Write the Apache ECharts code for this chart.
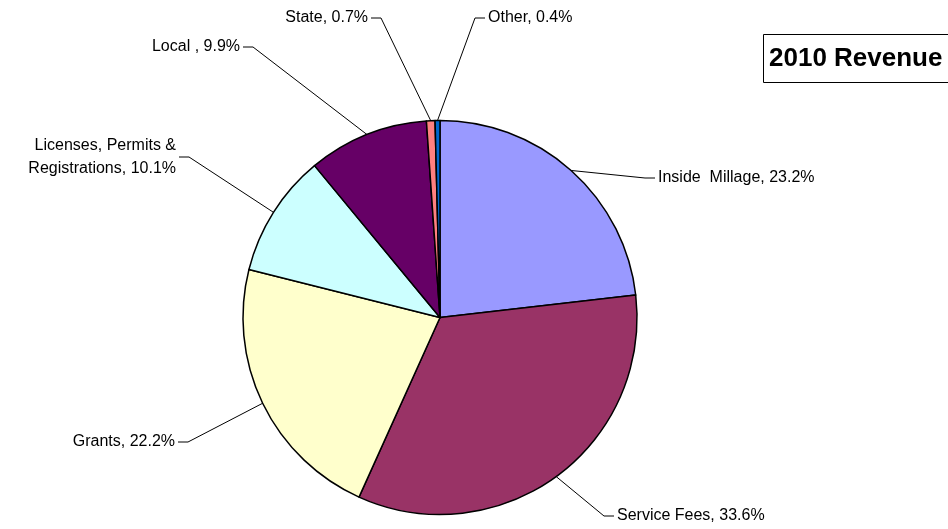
<!DOCTYPE html>
<html>
<head>
<meta charset="utf-8">
<script src="https://cdn.jsdelivr.net/npm/echarts@6/dist/echarts.min.js"></script>
<style>
html,body{margin:0;padding:0;background:#fff;}
#chart{width:948px;height:529px;}
</style>
</head>
<body>
<div id="chart"></div>
<script>
const categories = ['Inside  Millage', 'Service Fees', 'Grants', 'Licenses, Permits &\nRegistrations', 'Local ', 'State', 'Other'];
const values = [23.2, 33.6, 22.2, 10.1, 9.9, 0.7, 0.4];
const colors = ['#9999FF', '#993366', '#FFFFCC', '#CCFFFF', '#660066', '#FF8080', '#0066CC'];
const titleText = '2010 Revenue';

// label placement (outer edge of label box incl. padding, vertical middle)
const labelPos = [
  {x: 655, y: 178, align: 'left'},
  {x: 614, y: 516, align: 'left'},
  {x: 178, y: 442, align: 'right'},
  {x: 179, y: 157, align: 'right'},
  {x: 243, y: 47, align: 'right'},
  {x: 371, y: 18, align: 'right'},
  {x: 485, y: 18, align: 'left'}
];

const chart = echarts.init(document.getElementById('chart'), null, {renderer: 'canvas'});
chart.setOption({
  animation: false,
  backgroundColor: '#ffffff',
  title: {
    text: titleText,
    left: 763,
    top: 34,
    padding: [11, 80, 11, 6],
    borderColor: '#000',
    borderWidth: 1,
    textStyle: {fontFamily: 'Liberation Sans', fontWeight: 'bold', fontSize: 26, lineHeight: 27, color: '#000'}
  },
  series: [{
    type: 'pie',
    center: [440, 317.5],
    radius: [0, 197],
    startAngle: 90,
    clockwise: true,
    avoidLabelOverlap: false,
    data: categories.map((c, i) => ({name: c, value: values[i], itemStyle: {color: colors[i]}})),
    itemStyle: {borderColor: '#000', borderWidth: 1.5},
    label: {
      show: true,
      position: 'outside',
      fontFamily: 'Liberation Sans',
      fontSize: 16,
      lineHeight: 23,
      padding: [0, 3],
      color: '#000',
      formatter: p => p.name + ', ' + p.value.toFixed(1) + '%'
    },
    labelLine: {show: true, length: 10, length2: 10, smooth: false, lineStyle: {color: '#000', width: 1}},
    labelLayout: p => {
      const lp = labelPos[p.dataIndex];
      return {x: lp.x, y: lp.y, align: lp.align, verticalAlign: 'middle', moveOverlap: null};
    },
    emphasis: {disabled: true}
  }]
});
</script>
</body>
</html>
